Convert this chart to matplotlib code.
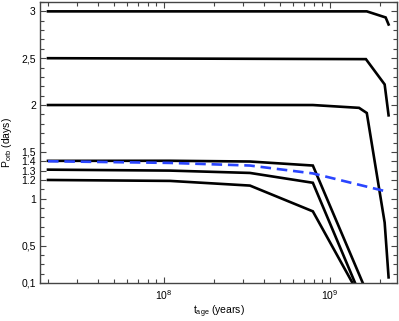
import matplotlib
matplotlib.use("Agg")
import matplotlib.pyplot as plt
import numpy as np
from matplotlib.ticker import LogLocator, NullFormatter, FixedLocator

plt.rcParams["font.family"] = ["Liberation Sans", "DejaVu Sans"]
plt.rcParams["mathtext.fontset"] = "custom"
plt.rcParams["mathtext.rm"] = "Liberation Sans"
plt.rcParams["mathtext.it"] = "Liberation Sans:italic"

### tracks of orbital period vs age (black solid)
t_p30 = [2e7, 1.67e9, 2.17e9, 2.26e9]
p_p30 = [3.0, 3.0, 2.935, 2.86]

t_p25 = [2e7, 1.65e9, 2.14e9, 2.26e9]
p_p25 = [2.5, 2.49, 2.22, 1.89]

t_p20 = [2e7, 7.9e8, 1.5e9, 1.67e9, 2.14e9, 2.26e9]
p_p20 = [2.0, 2.0, 1.97, 1.915, 0.745, 0.16]

t_p14 = [2e7, 1.09e8, 3.3e8, 7.9e8, 1.58e9]
p_p14 = [1.404, 1.405, 1.397, 1.354, 0.1]

t_p13 = [2e7, 1.09e8, 3.3e8, 7.9e8, 1.42e9]
p_p13 = [1.31, 1.30, 1.275, 1.17, 0.1]

t_p12 = [2e7, 1.09e8, 3.3e8, 7.9e8, 1.37e9]
p_p12 = [1.20, 1.19, 1.14, 0.865, 0.1]

### blue dashed track
t_blue = [2e7, 1.09e8, 3.3e8, 7.9e8, 2.23e9]
p_blue = [1.40, 1.382, 1.354, 1.27, 1.074]

y_tick_vals = [0.1, 0.5, 1, 1.2, 1.3, 1.4, 1.5, 2, 2.5, 3]
y_tick_labels = ["0,1", "0,5", "1", "1.2", "1.3", "1.4", "1,5", "2", "2,5", "3"]

fig = plt.figure(figsize=(3.99, 3.21), dpi=100)
ax = fig.add_axes([40 / 399, 1 - 283 / 321, 357 / 399, 281 / 321])

black_tracks = [
    (t_p30, p_p30),
    (t_p25, p_p25),
    (t_p20, p_p20),
    (t_p14, p_p14),
    (t_p13, p_p13),
    (t_p12, p_p12),
]
for t, p in black_tracks:
    ax.plot(t, p, color="black", lw=1.9, solid_joinstyle="miter")

ax.plot(t_blue, p_blue, color="#2a45ff", lw=1.9, dashes=(4, 2.2))

ax.set_xscale("log")
ax.set_xlim(1.79e7, 2.54e9)
ax.set_ylim(0.1, 3.1)

ax.xaxis.set_major_locator(LogLocator(base=10))
ax.xaxis.set_minor_locator(LogLocator(base=10, subs=np.arange(2, 10)))
ax.xaxis.set_minor_formatter(NullFormatter())

ax.yaxis.set_major_locator(FixedLocator(y_tick_vals))
ax.set_yticklabels(y_tick_labels)
ax.yaxis.set_minor_locator(FixedLocator(np.round(np.arange(0.1, 3.15, 0.1), 2)))

ax.tick_params(which="both", direction="in", top=True, right=True,
               labelsize=7.5, color="#444444", width=0.8)
ax.tick_params(which="major", length=4, pad=4)
ax.tick_params(which="minor", length=3)
ax.tick_params(axis="y", which="major", pad=3)

for s in ax.spines.values():
    s.set_color("#444444")
    s.set_linewidth(1.0)

ax.set_xlabel(r"t$_{\rm age}$ (years)", fontsize=7.5, labelpad=1)
ax.set_ylabel(r"P$_{\rm orb}$ (days)", fontsize=7.5, labelpad=5)

fig.savefig("out.png", dpi=100)
